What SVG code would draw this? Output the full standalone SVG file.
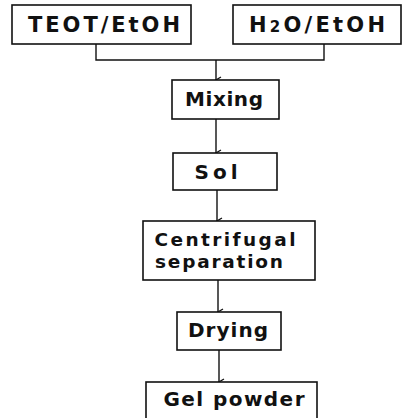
<svg xmlns="http://www.w3.org/2000/svg" width="408" height="418" viewBox="0 0 408 418">
<defs>
<style>
.box{fill:#fff;stroke:#111;stroke-width:1.6}
.lbl{font-family:"DejaVu Sans","Liberation Sans",sans-serif;font-weight:bold;font-size:20px;fill:#111;text-anchor:middle}
.big{font-size:21px}
.sm{font-size:18.5px}
.con{fill:none;stroke:#111;stroke-width:1.4}
</style>
<marker id="ah" markerWidth="8" markerHeight="8" refX="4" refY="7" orient="auto" markerUnits="userSpaceOnUse" viewBox="0 0 8 8">
<path d="M1,2 L4,7 L7,2" fill="none" stroke="#111" stroke-width="1.3"/>
</marker>
</defs>
<rect width="408" height="418" fill="#fff"/>
<g id="connectors">
<path class="con" d="M96,44 V60 H324 V44"/>
<path class="con" d="M216,60 V80" marker-end="url(#ah)"/>
<path class="con" d="M216,119 V153" marker-end="url(#ah)"/>
<path class="con" d="M217,190 V221" marker-end="url(#ah)"/>
<path class="con" d="M218,280 V312" marker-end="url(#ah)"/>
<path class="con" d="M219,350 V382" marker-end="url(#ah)"/>
</g>
<g id="teot">
<rect class="box" x="12" y="5" width="179" height="39"/>
<text class="lbl big" x="104" y="32" textLength="152" lengthAdjust="spacing">TEOT/EtOH</text>
</g>
<g id="h2o">
<rect class="box" x="233" y="5" width="168" height="39"/>
<text class="lbl big" x="317" y="32" textLength="136" lengthAdjust="spacing">H<tspan font-size="15">2</tspan>O/EtOH</text>
</g>
<g id="mixing">
<rect class="box" x="172" y="80" width="107" height="39"/>
<text class="lbl" x="224" y="106" textLength="78" lengthAdjust="spacing">Mixing</text>
</g>
<g id="sol">
<rect class="box" x="173" y="153" width="104" height="37"/>
<text class="lbl" x="216" y="179" textLength="43" lengthAdjust="spacing">Sol</text>
</g>
<g id="centrifugal">
<rect class="box" x="143" y="221" width="172" height="59"/>
<text class="lbl sm" x="225" y="246" textLength="141" lengthAdjust="spacing">Centrifugal</text>
<text class="lbl sm" x="219" y="268" textLength="128" lengthAdjust="spacing">separation</text>
</g>
<g id="drying">
<rect class="box" x="177" y="312" width="104" height="38"/>
<text class="lbl" x="228" y="337" textLength="80" lengthAdjust="spacing">Drying</text>
</g>
<g id="gel">
<rect class="box" x="146" y="382" width="171" height="45"/>
<text class="lbl" x="234" y="406" textLength="141" lengthAdjust="spacing">Gel powder</text>
</g>
</svg>
